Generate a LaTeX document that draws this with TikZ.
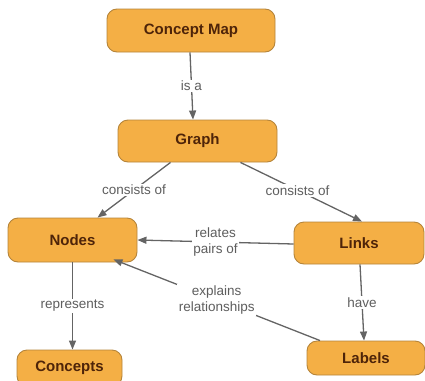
\documentclass[tikz,border=0pt]{standalone}
\usepackage{fontspec}
\setmainfont{Liberation Sans}
\usetikzlibrary{arrows.meta}
\definecolor{boxfill}{HTML}{F4AF45}
\definecolor{boxline}{HTML}{B5843A}
\definecolor{boxtext}{HTML}{4E2409}
\definecolor{linkcol}{HTML}{646464}
\definecolor{labcol}{HTML}{5E5E5E}
\tikzset{
  concept/.style={draw=boxline, line width=0.9pt, fill=boxfill, rounded corners=10pt,
    text=boxtext, font=\fontsize{15}{17}\selectfont\bfseries, inner sep=0pt},
  linkarrow/.style={draw=linkcol, line width=1.3pt, -{Triangle[length=9pt,width=7pt]}},
  linklabel/.style={fill=white, text=labcol, font=\fontsize{13.5}{15.5}\selectfont,
    inner sep=1.5pt, align=center}
}
\begin{document}
\begin{tikzpicture}[x=1pt,y=-1pt]
\useasboundingbox (0,0) rectangle (425,380);
\node[concept, minimum width=168pt, minimum height=43pt] (cm) at (191,30.5) {Concept Map};
\node[concept, minimum width=159pt, minimum height=42pt] (graph) at (197.5,141) {Graph};
\node[concept, minimum width=129pt, minimum height=44pt] (nodes) at (72.5,240) {Nodes};
\node[concept, minimum width=130pt, minimum height=42pt] (links) at (359,243) {Links};
\node[concept, minimum width=105pt, minimum height=36pt] (concepts) at (69.5,368) {Concepts};
\node[concept, minimum width=118pt, minimum height=34pt] (labels) at (366,358) {Labels};

\draw[linkarrow] ([xshift=-1pt]cm.south) -- node[linklabel] {is a} ([xshift=-4.5pt]graph.north);
\draw[linkarrow] ([xshift=-27pt]graph.south) -- node[linklabel, pos=0.5] {consists of} ([xshift=25pt]nodes.north);
\draw[linkarrow] ([xshift=43pt]graph.south) -- node[linklabel, pos=0.47] {consists of} ([xshift=3pt]links.north);
\draw[linkarrow] ([yshift=-1pt]links.west) -- node[linklabel, pos=0.5] {relates\\pairs of} ([yshift=0pt]nodes.east);
\draw[linkarrow] ([xshift=0pt]nodes.south) -- node[linklabel] {represents} ([xshift=3pt]concepts.north);
\draw[linkarrow] ([xshift=1pt]links.south) -- node[linklabel] {have} ([xshift=-2pt]labels.north);
\draw[linkarrow] ([xshift=-46pt]labels.north) -- node[linklabel, pos=0.5] {explains\\relationships} ([shift={(-24pt,3pt)}]nodes.south east);
\end{tikzpicture}
\end{document}
